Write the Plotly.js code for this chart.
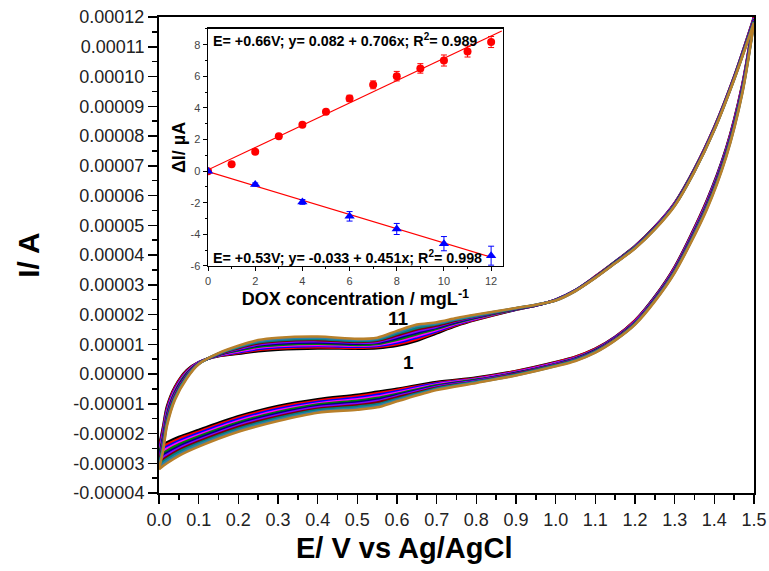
<!DOCTYPE html>
<html><head><meta charset="utf-8">
<script src="https://cdn.plot.ly/plotly-3.0.1.min.js"></script>
<style>html,body{margin:0;padding:0;background:#fff}#chart{width:769px;height:571px}</style>
</head><body><div id="chart"></div>
<script>
// Potential (V vs Ag/AgCl): forward scan 0 -> 1.5 (first 31), reverse 1.5 -> 0
const potential = [0,0.01,0.02,0.04,0.07,0.1,0.15,0.2,0.25,0.3,0.4,0.5,0.55,0.6,0.65,0.7,0.75,0.8,0.9,0.95,1.0,1.05,1.1,1.15,1.2,1.25,1.3,1.35,1.4,1.45,1.5,
  1.47,1.43,1.38,1.3,1.25,1.2,1.15,1.1,1.05,1.0,0.9,0.8,0.7,0.6,0.55,0.5,0.4,0.3,0.2,0.1,0.05,0.02,0];
// Currents in units of 1e-5 A, curves 1..11
const cv1 = [-2.44,-1.80,-1.10,-0.43,0.13,0.40,0.60,0.68,0.77,0.82,0.86,0.85,0.87,0.95,1.12,1.37,1.62,1.82,2.16,2.30,2.50,2.82,3.28,3.78,4.30,4.95,5.75,6.90,8.30,10.00,12.00,
  9.70,7.60,5.80,3.60,2.60,1.80,1.25,0.85,0.58,0.40,0.10,-0.12,-0.27,-0.50,-0.60,-0.70,-0.85,-1.08,-1.42,-1.88,-2.12,-2.30,-2.44];
const cv2 = [-2.52,-1.88,-1.17,-0.47,0.10,0.39,0.61,0.71,0.81,0.86,0.90,0.88,0.91,1.00,1.17,1.41,1.65,1.84,2.17,2.30,2.50,2.82,3.28,3.77,4.29,4.94,5.74,6.89,8.29,9.99,11.98,
  9.67,7.57,5.77,3.58,2.58,1.79,1.24,0.84,0.57,0.39,0.09,-0.14,-0.30,-0.54,-0.65,-0.75,-0.90,-1.13,-1.47,-1.94,-2.18,-2.37,-2.52];
const cv3 = [-2.59,-1.96,-1.23,-0.52,0.07,0.39,0.62,0.73,0.84,0.90,0.94,0.92,0.94,1.05,1.23,1.44,1.67,1.86,2.17,2.30,2.50,2.82,3.27,3.77,4.28,4.93,5.73,6.88,8.28,9.98,11.96,
  9.64,7.54,5.74,3.56,2.57,1.77,1.23,0.82,0.55,0.37,0.07,-0.16,-0.32,-0.58,-0.70,-0.80,-0.94,-1.18,-1.52,-1.99,-2.25,-2.44,-2.59];
const cv4 = [-2.67,-2.04,-1.30,-0.56,0.05,0.38,0.63,0.76,0.88,0.94,0.98,0.95,0.98,1.10,1.28,1.48,1.70,1.87,2.18,2.31,2.49,2.81,3.27,3.76,4.28,4.92,5.72,6.87,8.27,9.97,11.94,
  9.61,7.51,5.71,3.54,2.55,1.76,1.21,0.81,0.54,0.36,0.06,-0.17,-0.35,-0.63,-0.76,-0.85,-0.99,-1.23,-1.58,-2.05,-2.31,-2.51,-2.67];
const cv5 = [-2.74,-2.12,-1.36,-0.61,0.02,0.37,0.64,0.79,0.92,0.98,1.02,0.98,1.01,1.15,1.34,1.52,1.72,1.89,2.18,2.31,2.49,2.81,3.26,3.76,4.27,4.91,5.71,6.86,8.26,9.96,11.92,
  9.58,7.48,5.68,3.52,2.54,1.74,1.20,0.80,0.52,0.34,0.04,-0.19,-0.38,-0.67,-0.81,-0.90,-1.03,-1.28,-1.63,-2.10,-2.37,-2.58,-2.74];
const cv6 = [-2.82,-2.20,-1.43,-0.65,-0.01,0.37,0.65,0.82,0.96,1.02,1.06,1.02,1.05,1.20,1.39,1.56,1.75,1.91,2.19,2.31,2.49,2.81,3.26,3.75,4.26,4.91,5.70,6.85,8.25,9.95,11.90,
  9.55,7.45,5.65,3.50,2.52,1.73,1.19,0.79,0.51,0.33,0.03,-0.21,-0.41,-0.71,-0.86,-0.95,-1.08,-1.33,-1.68,-2.16,-2.44,-2.65,-2.82];
const cv7 = [-2.90,-2.28,-1.49,-0.69,-0.04,0.36,0.66,0.84,0.99,1.06,1.10,1.05,1.08,1.25,1.44,1.59,1.78,1.93,2.20,2.32,2.49,2.81,3.25,3.74,4.25,4.90,5.69,6.84,8.24,9.94,11.88,
  9.52,7.42,5.62,3.48,2.50,1.72,1.18,0.77,0.50,0.32,0.01,-0.23,-0.43,-0.75,-0.91,-1.00,-1.12,-1.38,-1.73,-2.22,-2.50,-2.72,-2.90];
const cv8 = [-2.97,-2.36,-1.56,-0.74,-0.07,0.35,0.67,0.87,1.03,1.10,1.14,1.08,1.12,1.30,1.50,1.63,1.80,1.95,2.20,2.32,2.48,2.80,3.25,3.74,4.24,4.89,5.68,6.83,8.23,9.93,11.86,
  9.49,7.39,5.59,3.46,2.49,1.70,1.17,0.76,0.48,0.30,0.00,-0.25,-0.46,-0.79,-0.96,-1.05,-1.17,-1.43,-1.78,-2.27,-2.56,-2.79,-2.97];
const cv9 = [-3.05,-2.44,-1.62,-0.78,-0.09,0.34,0.68,0.90,1.07,1.14,1.18,1.11,1.15,1.35,1.55,1.67,1.83,1.96,2.21,2.32,2.48,2.80,3.24,3.73,4.24,4.88,5.67,6.82,8.22,9.92,11.84,
  9.46,7.36,5.56,3.44,2.47,1.69,1.15,0.75,0.47,0.29,-0.02,-0.26,-0.49,-0.84,-1.02,-1.10,-1.21,-1.48,-1.84,-2.33,-2.62,-2.86,-3.05];
const cv10 = [-3.12,-2.52,-1.69,-0.83,-0.12,0.34,0.69,0.92,1.10,1.18,1.22,1.15,1.19,1.40,1.61,1.70,1.85,1.98,2.21,2.33,2.47,2.79,3.24,3.73,4.23,4.87,5.66,6.81,8.21,9.91,11.82,
  9.43,7.33,5.53,3.42,2.46,1.67,1.14,0.73,0.45,0.27,-0.04,-0.28,-0.51,-0.88,-1.07,-1.15,-1.26,-1.53,-1.89,-2.38,-2.69,-2.93,-3.12];
const cv11 = [-3.20,-2.60,-1.75,-0.87,-0.15,0.33,0.70,0.95,1.14,1.22,1.26,1.18,1.22,1.45,1.66,1.74,1.88,2.00,2.22,2.33,2.47,2.79,3.23,3.72,4.22,4.86,5.65,6.80,8.20,9.90,11.80,
  9.40,7.30,5.50,3.40,2.44,1.66,1.13,0.72,0.44,0.26,-0.05,-0.30,-0.54,-0.92,-1.12,-1.20,-1.30,-1.58,-1.94,-2.44,-2.75,-3.00,-3.20];
const curveColors = ['#000000','#FF0000','#0000FF','#FF00FF','#008000','#000080','#8000FF','#800000','#008080','#2F7FA8','#B8802A'];
const yTickVals = [-4,-3,-2,-1,0,1,2,3,4,5,6,7,8,9,10,11,12];
const yTickText = ['-0.00004','-0.00003','-0.00002','-0.00001','0.00000','0.00001','0.00002','0.00003','0.00004','0.00005','0.00006','0.00007','0.00008','0.00009','0.00010','0.00011','0.00012'];

// Inset: calibration
const doxConc = [0,1,2,3,4,5,6,7,8,9,10,11,12];
const dI_066 = [0,0.43,1.23,2.2,2.94,3.75,4.6,5.46,6.01,6.5,7.0,7.57,8.17];
const err_066 = [0,0.08,0.1,0.1,0.1,0.15,0.2,0.25,0.3,0.3,0.35,0.35,0.35];
const doxConcB = [0,2,4,6,8,10,12];
const dI_053 = [0,-0.85,-1.95,-2.86,-3.66,-4.59,-5.35];
const err_053 = [0,0.1,0.15,0.3,0.35,0.45,0.6];
const fitX_066 = [0,12.45];
const fitY_066 = [0.082,8.87];
const fitX_053 = [0,12];
const fitY_053 = [-0.033,-5.445];
const insetYTickVals = [-6,-4,-2,0,2,4,6,8];
const insetYTickText = ['-6','-4','-2','0','2','4','6','8'];

const NF = 31; // number of forward-scan points
const curves = [cv1,cv2,cv3,cv4,cv5,cv6,cv7,cv8,cv9,cv10,cv11];
const traces = [];
curves.forEach((c,i)=>{
  traces.push({x:potential.slice(0,NF), y:c.slice(0,NF), mode:'lines', line:{color:curveColors[i], width:2.6, shape:'spline', smoothing:0.8}, xaxis:'x', yaxis:'y', hoverinfo:'skip'});
  traces.push({x:potential.slice(NF-1), y:c.slice(NF-1), mode:'lines', line:{color:curveColors[i], width:2.6, shape:'spline', smoothing:0.8}, xaxis:'x', yaxis:'y', hoverinfo:'skip'});
});
traces.push({x:fitX_066, y:fitY_066, mode:'lines', line:{color:'#FF0000', width:1.2}, xaxis:'x2', yaxis:'y2'});
traces.push({x:fitX_053, y:fitY_053, mode:'lines', line:{color:'#FF0000', width:1.2}, xaxis:'x2', yaxis:'y2'});
traces.push({x:doxConc, y:dI_066, mode:'markers', marker:{symbol:'circle', size:8, color:'#FF0000'},
  error_y:{type:'data', array:err_066, color:'#FF0000', thickness:1, width:3}, xaxis:'x2', yaxis:'y2'});
traces.push({x:doxConcB, y:dI_053, mode:'markers', marker:{symbol:'triangle-up', size:9, color:'#0000FF'},
  error_y:{type:'data', array:err_053, color:'#0000FF', thickness:1, width:3}, xaxis:'x2', yaxis:'y2'});

const F = 'Liberation Sans, Arial, sans-serif';
const layout = {
  width:769, height:571, showlegend:false,
  paper_bgcolor:'#fff', plot_bgcolor:'#fff',
  margin:{l:159, r:15, t:17, b:78},
  font:{family:F, color:'#000'},
  xaxis:{domain:[0,1], range:[0,1.5], tickmode:'linear', tick0:0, dtick:0.1, tickformat:'.1f',
    ticks:'outside', ticklen:9, tickwidth:1.5, tickcolor:'#000',
    minor:{tickmode:'linear', tick0:0, dtick:0.05, ticks:'outside', ticklen:5, tickwidth:1.5, tickcolor:'#000'},
    showline:true, linewidth:2, linecolor:'#000', mirror:true, showgrid:false, zeroline:false,
    tickfont:{size:18, family:F, color:'#222'}},
  yaxis:{domain:[0,1], range:[-4,12], tickmode:'array', tickvals:yTickVals, ticktext:yTickText,
    ticks:'outside', ticklen:9, tickwidth:1.5, tickcolor:'#000',
    minor:{tickmode:'linear', tick0:0, dtick:0.5, ticks:'outside', ticklen:5, tickwidth:1.5, tickcolor:'#000'},
    showline:true, linewidth:2, linecolor:'#000', mirror:true, showgrid:false, zeroline:false,
    tickfont:{size:18, family:F, color:'#222'},
    title:{text:'<b>I/ A</b>', font:{size:30, family:F, color:'#000'}, standoff:25}},
  xaxis2:{domain:[0.0824,0.578], range:[0,12.5], anchor:'y2', tickmode:'linear', tick0:0, dtick:2,
    ticks:'outside', ticklen:4, tickwidth:1, tickcolor:'#000',
    minor:{tickmode:'linear', tick0:0, dtick:1, ticks:'outside', ticklen:2, tickwidth:1, tickcolor:'#000'},
    showline:true, linewidth:1.5, linecolor:'#000', mirror:true, showgrid:false, zeroline:false,
    tickfont:{size:11, family:F, color:'#444'},
    title:{text:'<b>DOX concentration / mgL<sup>-1</sup></b>', font:{size:18, family:F, color:'#000'}, standoff:0}},
  yaxis2:{domain:[0.477,0.975], range:[-6,9], anchor:'x2', tickmode:'array', tickvals:insetYTickVals, ticktext:insetYTickText,
    ticks:'outside', ticklen:4, tickwidth:1, tickcolor:'#000',
    minor:{tickmode:'linear', tick0:0, dtick:1, ticks:'outside', ticklen:2, tickwidth:1, tickcolor:'#000'},
    showline:true, linewidth:1.5, linecolor:'#000', mirror:true, showgrid:false, zeroline:false,
    tickfont:{size:11, family:F, color:'#444'},
    title:{text:'<b>ΔI/ µA</b>', font:{size:18, family:F, color:'#000'}, standoff:0}},
  annotations:[
    {xref:'paper', yref:'paper', x:(404-159)/595, y:-0.115, xanchor:'center', yanchor:'middle', showarrow:false,
      text:'<b>E/ V vs Ag/AgCl</b>', font:{size:29, family:F, color:'#000'}},
    {xref:'x', yref:'y', x:0.603, y:1.88, text:'<b>11</b>', showarrow:false, font:{size:19, family:F, color:'#000'}},
    {xref:'x', yref:'y', x:0.628, y:0.40, text:'<b>1</b>', showarrow:false, font:{size:19, family:F, color:'#000'}},
    {xref:'x2', yref:'y2', x:0.12, y:8.3, xanchor:'left', yanchor:'middle', showarrow:false,
      text:'<b>E= +0.66V; y= 0.082 + 0.706x; R<sup>2</sup>= 0.989</b>', font:{size:14.3, family:F, color:'#000'}},
    {xref:'x2', yref:'y2', x:0.12, y:-5.44, xanchor:'left', yanchor:'middle', showarrow:false,
      text:'<b>E= +0.53V; y= -0.033 + 0.451x; R<sup>2</sup>= 0.998</b>', font:{size:14.3, family:F, color:'#000'}}
  ]
};
Plotly.newPlot('chart', traces, layout, {staticPlot:true, displayModeBar:false});
</script></body></html>
